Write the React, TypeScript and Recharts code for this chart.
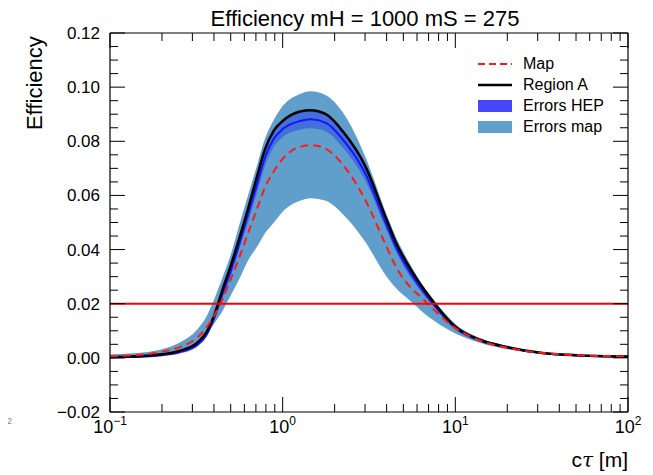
import React from 'react';
import { Area, ComposedChart, Legend, Line, ReferenceLine, XAxis, YAxis } from 'recharts';

// c*tau [m] sample points
const ctau = [0.1, 0.13, 0.16, 0.2, 0.25, 0.32, 0.36, 0.4, 0.45, 0.5, 0.56, 0.63, 0.71, 0.79, 0.89, 1.0, 1.26, 1.45, 1.78, 2.24, 3.0, 4.0, 4.5, 5.6, 6.3, 7.6, 10, 14, 20, 32, 50, 100];

const regionA = [0.0003, 0.0005, 0.0008, 0.0013, 0.0025, 0.0056, 0.0092, 0.0155, 0.0255, 0.034, 0.044, 0.055, 0.067, 0.077, 0.084, 0.0875, 0.091, 0.0915, 0.09, 0.0835, 0.071, 0.051, 0.043, 0.032, 0.027, 0.02, 0.0115, 0.0066, 0.004, 0.0018, 0.001, 0.0005];
const hepCentral = [0.0001, 0.0003, 0.0005, 0.001, 0.002, 0.0048, 0.0082, 0.0145, 0.024, 0.032, 0.042, 0.053, 0.064, 0.074, 0.081, 0.0845, 0.0875, 0.0881, 0.0868, 0.0805, 0.0683, 0.049, 0.0413, 0.0305, 0.0258, 0.0192, 0.011, 0.0063, 0.0038, 0.0017, 0.0009, 0.0005];
const hepLow = [0.0, 0.0001, 0.0002, 0.0007, 0.0015, 0.004, 0.0076, 0.0135, 0.0225, 0.03, 0.04, 0.05, 0.061, 0.071, 0.078, 0.0815, 0.0843, 0.0848, 0.0836, 0.0775, 0.0656, 0.047, 0.0396, 0.029, 0.0246, 0.0184, 0.0105, 0.006, 0.0036, 0.0016, 0.0008, 0.0004];
const hepHigh = [0.0003, 0.0005, 0.0008, 0.0013, 0.0025, 0.0056, 0.0088, 0.0155, 0.0255, 0.034, 0.044, 0.056, 0.067, 0.077, 0.084, 0.0875, 0.0907, 0.0914, 0.09, 0.0835, 0.071, 0.051, 0.043, 0.032, 0.027, 0.02, 0.0115, 0.0066, 0.004, 0.0018, 0.001, 0.0005];
const mapCentral = [0.0006, 0.0009, 0.0013, 0.0022, 0.0038, 0.0075, 0.011, 0.0155, 0.022, 0.029, 0.037, 0.046, 0.055, 0.063, 0.069, 0.0735, 0.078, 0.0786, 0.0772, 0.0712, 0.0585, 0.041, 0.034, 0.0255, 0.0225, 0.0175, 0.011, 0.0063, 0.0037, 0.0018, 0.001, 0.0005];
const mapHigh = [0.0012, 0.0016, 0.0021, 0.0032, 0.0055, 0.0105, 0.015, 0.0215, 0.03, 0.038, 0.049, 0.06, 0.071, 0.081, 0.088, 0.093, 0.0975, 0.0985, 0.097, 0.0905, 0.0745, 0.053, 0.045, 0.0335, 0.028, 0.021, 0.0125, 0.0072, 0.0043, 0.002, 0.0012, 0.0007];
const mapLow = [0.0, 0.0003, 0.0006, 0.0012, 0.0025, 0.0055, 0.0085, 0.0125, 0.0175, 0.023, 0.029, 0.036, 0.041, 0.046, 0.05, 0.054, 0.058, 0.059, 0.058, 0.053, 0.043, 0.03, 0.026, 0.0205, 0.0175, 0.0135, 0.009, 0.0055, 0.0032, 0.0015, 0.0009, 0.0004];

const threshold = 0.02;

const xMajor = [0.1, 1, 10, 100];
const xMinor = [0.2, 0.3, 0.4, 0.5, 0.6, 0.7, 0.8, 0.9, 2, 3, 4, 5, 6, 7, 8, 9, 20, 30, 40, 50, 60, 70, 80, 90];
const yMajor = [-0.02, 0, 0.02, 0.04, 0.06, 0.08, 0.1, 0.12];
const yMinor = [-0.015, -0.01, -0.005, 0.005, 0.01, 0.015, 0.025, 0.03, 0.035, 0.045, 0.05, 0.055, 0.065, 0.07, 0.075, 0.085, 0.09, 0.095, 0.105, 0.11, 0.115];
const xExponent: Record<number, string> = { 0.1: '\u22121', 1: '0', 10: '1', 100: '2' };

const data = ctau.map((c, i) => ({
  ctau: c,
  regionA: regionA[i],
  hep: hepCentral[i],
  map: mapCentral[i],
  hepBand: [hepLow[i], hepHigh[i]],
  mapBand: [mapLow[i], mapHigh[i]],
}));

const FONT = '"Liberation Sans", Arial, Helvetica, sans-serif';
const W = 645;
const H = 467;
const X_DOMAIN: [number, number] = [0.1, 100];
const Y_DOMAIN: [number, number] = [-0.02, 0.12];

const legendItems = [
  { label: 'Map', kind: 'dash', color: '#ff1a1a' },
  { label: 'Region A', kind: 'line', color: '#000000' },
  { label: 'Errors HEP', kind: 'box', color: '#4646ff' },
  { label: 'Errors map', kind: 'box', color: '#609fcc' },
];

const renderLegend = () => (
  <div style={{ fontFamily: FONT, fontSize: 16, color: '#000' }}>
    {legendItems.map((it) => (
      <div key={it.label} style={{ display: 'flex', alignItems: 'center', height: 21 }}>
        <svg width={34} height={14} style={{ marginRight: 11 }}>
          {it.kind === 'box' && <rect x={0} y={1} width={34} height={12} fill={it.color} />}
          {it.kind === 'line' && <line x1={0} x2={34} y1={7} y2={7} stroke={it.color} strokeWidth={2.5} />}
          {it.kind === 'dash' && <line x1={0} x2={34} y1={7} y2={7} stroke={it.color} strokeWidth={2} strokeDasharray="7 4" />}
        </svg>
        <span>{it.label}</span>
      </div>
    ))}
  </div>
);

const XTick = ({ x, y, payload }: any) => (
  <text x={x} y={y + 21} textAnchor="middle" fontFamily={FONT} fontSize={18} fill="#000">
    <tspan>10</tspan>
    <tspan dy={-8} fontSize={12}>{xExponent[payload.value]}</tspan>
  </text>
);

const noTick = () => <g />;
const fmtY = (v: number) => (v < 0 ? '\u2212' + Math.abs(v).toFixed(2) : v.toFixed(2));

// extra mirrored axes only draw the frame and the inward ticks
const frameX = (id: string, top: boolean, ticks: number[], size: number, line: boolean) => (
  <XAxis key={id} xAxisId={id} dataKey="ctau" orientation={top ? 'top' : 'bottom'} type="number" scale="log"
    domain={X_DOMAIN} allowDataOverflow mirror height={0.01} ticks={ticks} interval={0} tickSize={size} tick={noTick}
    axisLine={line ? { stroke: '#000', strokeWidth: 1.2 } : false} tickLine={{ stroke: '#000' }} />
);
const frameY = (id: string, right: boolean, ticks: number[], size: number, line: boolean) => (
  <YAxis key={id} yAxisId={id} orientation={right ? 'right' : 'left'} type="number" domain={Y_DOMAIN}
    allowDataOverflow mirror width={0.01} ticks={ticks} interval={0} tickSize={size} tick={noTick}
    axisLine={line ? { stroke: '#000', strokeWidth: 1.2 } : false} tickLine={{ stroke: '#000' }} />
);
const framePairs = [
  ['xMajB', 'yMajL'],
  ['xMinB', 'yMinL'],
  ['xMajT', 'yMajR'],
  ['xMinT', 'yMinR'],
];

export default function App() {
  return (
    <div style={{ position: 'relative', width: W, height: H, fontFamily: FONT }}>
      <div style={{ position: 'absolute', left: 0, width: 714, top: -1, textAlign: 'center', fontSize: 22, lineHeight: '24px' }}>
        Efficiency mH = 1000 mS = 275
      </div>
      <div
        style={{
          position: 'absolute',
          left: 15,
          top: 122,
          fontSize: 22,
          transformOrigin: '0 0',
          transform: 'rotate(-90deg)',
          whiteSpace: 'nowrap',
          lineHeight: '24px',
        }}
      >
        Efficiency
      </div>
      <div style={{ position: 'absolute', right: 25, top: 440, fontSize: 21, lineHeight: '24px' }}>
        c<i style={{ fontFamily: '"DejaVu Serif", serif', fontSize: 20 }}>τ</i> [m]
      </div>
      <div style={{ position: 'absolute', left: -1, top: 408, fontSize: 9, color: '#888' }}>2</div>

      <ComposedChart width={W} height={H} data={data} margin={{ top: 25, right: 25, bottom: 33, left: 42 }}>
        <XAxis xAxisId="x" dataKey="ctau" type="number" scale="log" domain={X_DOMAIN} allowDataOverflow
          ticks={xMajor} interval={0} tickLine={false} tickSize={0} tickMargin={0} height={30}
          axisLine={{ stroke: '#000', strokeWidth: 1.2 }} tick={<XTick />} />
        {frameX('xMajB', false, xMajor, 15, false)}
        {frameX('xMinB', false, xMinor, 8, false)}
        {frameX('xMajT', true, xMajor, 15, true)}
        {frameX('xMinT', true, xMinor, 8, false)}

        <YAxis yAxisId="y" type="number" domain={Y_DOMAIN} allowDataOverflow ticks={yMajor} interval={0}
          width={60} tickLine={false} tickSize={0} tickMargin={10} tickFormatter={fmtY}
          tick={{ fontSize: 17, fill: '#000', fontFamily: FONT }} axisLine={{ stroke: '#000', strokeWidth: 1.2 }} />
        {frameY('yMajL', false, yMajor, 15, false)}
        {frameY('yMinL', false, yMinor, 8, false)}
        {frameY('yMajR', true, yMajor, 15, true)}
        {frameY('yMinR', true, yMinor, 8, false)}

        {framePairs.map(([xa, ya]) => (
          <Line key={xa} xAxisId={xa} yAxisId={ya} dataKey="regionA" stroke="none" dot={false} activeDot={false}
            legendType="none" isAnimationActive={false} />
        ))}

        <Area xAxisId="x" yAxisId="y" type="monotone" dataKey="mapBand" name="Errors map" fill="#609fcc"
          fillOpacity={1} stroke="none" isAnimationActive={false} />
        <Area xAxisId="x" yAxisId="y" type="monotone" dataKey="hepBand" name="Errors HEP" fill="#0000ff"
          fillOpacity={0.3} stroke="none" isAnimationActive={false} />
        <Line xAxisId="x" yAxisId="y" type="monotone" dataKey="hep" stroke="#1414ff" strokeWidth={2}
          dot={false} isAnimationActive={false} legendType="none" />
        <Line xAxisId="x" yAxisId="y" type="monotone" dataKey="regionA" name="Region A" stroke="#000"
          strokeWidth={2.5} dot={false} isAnimationActive={false} />
        <Line xAxisId="x" yAxisId="y" type="monotone" dataKey="map" name="Map" stroke="#ff1a1a" strokeWidth={2}
          strokeDasharray="8 5" dot={false} isAnimationActive={false} />
        <ReferenceLine xAxisId="x" yAxisId="y" y={threshold} stroke="#ff0000" strokeWidth={2} />

        <Legend layout="vertical" verticalAlign="middle" align="center" content={renderLegend}
          wrapperStyle={{ left: 470, top: 45, width: 150 }} />
      </ComposedChart>
    </div>
  );
}
